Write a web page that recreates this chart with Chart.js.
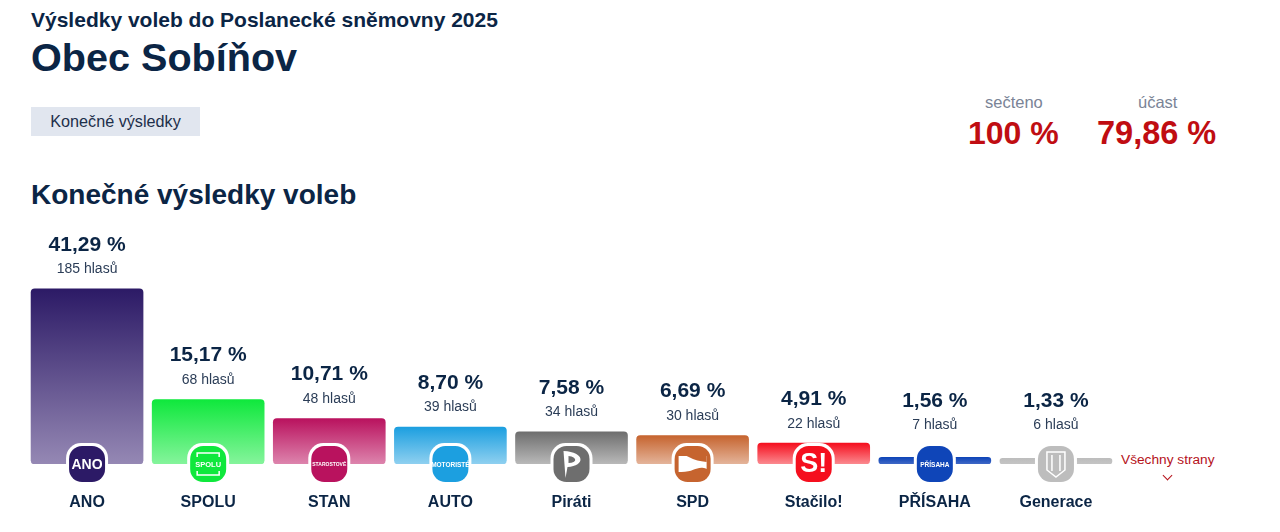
<!DOCTYPE html>
<html lang="cs">
<head>
<meta charset="utf-8">
<title>Obec Sobíňov</title>
<script src="https://cdn.jsdelivr.net/npm/chart.js@4"></script>
<style>
  html, body { margin: 0; padding: 0; background: #fff; overflow: hidden; }
  body { width: 1280px; height: 532px; position: relative; font-family: "Liberation Sans", Arial, sans-serif; color: #0b2545; }
  canvas { position: absolute; left: 0; top: 0; }
  .t { position: absolute; white-space: nowrap; line-height: 1; }
  .sup { left: 31px; top: 9px; font-size: 21px; font-weight: bold; }
  .obec { left: 31px; top: 38px; font-size: 39.6px; font-weight: bold; }
  .badge { position: absolute; left: 31px; top: 107px; width: 169px; height: 29px; background: #e1e6ef; font-size: 16.2px; line-height: 29px; text-align: center; color: #1d2f4a; }
  .head { left: 31px; top: 181px; font-size: 28px; font-weight: bold; }
  .lbl { font-size: 16.5px; color: #7a8496; text-align: center; top: 94px; }
  .big { font-size: 32.5px; font-weight: bold; color: #c00d12; text-align: center; top: 117px; }
  .all { left: 1121px; top: 453px; font-size: 13.7px; color: #b5121b; }
  .chev { position: absolute; left: 1164px; top: 472px; width: 6px; height: 6px; border-right: 1.5px solid #b5121b; border-bottom: 1.5px solid #b5121b; transform: rotate(45deg); }
</style>
</head>
<body>
<div class="t sup">Výsledky voleb do Poslanecké sněmovny 2025</div>
<div class="t obec">Obec Sobíňov</div>
<div class="badge">Konečné výsledky</div>
<div class="t lbl" style="left:985px">sečteno</div>
<div class="t big" style="left:968px;font-size:32px">100 %</div>
<div class="t lbl" style="left:1138px">účast</div>
<div class="t big" style="left:1097px">79,86 %</div>
<div class="t head">Konečné výsledky voleb</div>
<div class="t all">Všechny strany</div>
<div class="chev"></div>
<canvas id="chartVolby" width="1280" height="532"></canvas>
<script>
const parties = ['ANO', 'SPOLU', 'STAN', 'AUTO', 'Piráti', 'SPD', 'Stačilo!', 'PŘÍSAHA', 'Generace'];
const percents = [41.29, 15.17, 10.71, 8.70, 7.58, 6.69, 4.91, 1.56, 1.33];
const votes = [185, 68, 48, 39, 34, 30, 22, 7, 6];
const colorsTop = ['#2c1a66', '#0fe83c', '#b9125e', '#1c9fe0', '#6e6e6e', '#c6642f', '#f50f1e', '#0f45b8', '#bdbdbd'];
const colorsBottom = ['#9588b4', '#85f49c', '#dd84ad', '#8fd0f0', '#b9b9b9', '#e4b49a', '#fb8a90', '#3f68c6', '#c4c4c4'];
const logoText = ['ANO', 'SPOLU', 'STAROSTOVÉ', 'MOTORISTÉ', '', '', 'S!', 'PŘÍSAHA', ''];
const logoFont = [14, 7.5, 5, 6.5, 0, 0, 27, 6.5, 0];

const navy = '#0b2545';

function fmt(v) {
  return v.toFixed(2).replace('.', ',') + ' %';
}

function glyph(ctx, i, x, y) {
  ctx.fillStyle = '#fff';
  if (parties[i] === 'Piráti') {
    ctx.beginPath();
    ctx.moveTo(x - 8, y - 13);
    ctx.lineTo(x - 6, y + 14);
    ctx.lineTo(x - 4, y + 3);
    ctx.bezierCurveTo(x + 14, y + 2, x + 14, y - 12, x - 8, y - 13);
    ctx.closePath();
    ctx.moveTo(x - 3, y - 8);
    ctx.bezierCurveTo(x + 6, y - 7, x + 6, y - 1, x - 3, y - 1);
    ctx.closePath();
    ctx.fill('evenodd');
  } else if (parties[i] === 'SPD') {
    ctx.beginPath();
    ctx.moveTo(x - 14, y - 8);
    ctx.lineTo(x + 14, y - 8);
    ctx.lineTo(x + 14, y + 5);
    ctx.bezierCurveTo(x + 4, y + 1, x + 2, y + 9, x - 14, y + 8);
    ctx.closePath();
    ctx.fill();
    ctx.fillStyle = colorsTop[i];
    ctx.beginPath();
    ctx.moveTo(x - 6, y - 8);
    ctx.bezierCurveTo(x, y - 5, x + 4, y - 3, x + 14, y - 2);
    ctx.lineTo(x + 14, y - 8);
    ctx.closePath();
    ctx.fill();
  } else if (parties[i] === 'Generace') {
    ctx.strokeStyle = '#fff';
    ctx.lineWidth = 1.5;
    ctx.beginPath();
    ctx.moveTo(x - 9, y - 12);
    ctx.lineTo(x + 9, y - 12);
    ctx.lineTo(x + 9, y + 6);
    ctx.lineTo(x, y + 13);
    ctx.lineTo(x - 9, y + 6);
    ctx.closePath();
    ctx.moveTo(x - 4, y - 9);
    ctx.lineTo(x - 4, y + 7);
    ctx.moveTo(x + 4, y - 9);
    ctx.lineTo(x + 4, y + 7);
    ctx.stroke();
  } else {
    ctx.font = 'bold ' + logoFont[i] + 'px "Liberation Sans", Arial, sans-serif';
    ctx.textAlign = 'center';
    ctx.textBaseline = 'middle';
    ctx.fillText(logoText[i], x, y + 1);
    if (parties[i] === 'SPOLU') {
      // ramecek kolem napisu
      ctx.strokeStyle = '#fff';
      ctx.lineWidth = 1.5;
      ctx.beginPath();
      ctx.moveTo(x - 11, y - 7);
      ctx.lineTo(x - 11, y - 11);
      ctx.lineTo(x + 11, y - 11);
      ctx.lineTo(x + 11, y - 7);
      ctx.moveTo(x - 11, y + 7);
      ctx.lineTo(x - 11, y + 11);
      ctx.lineTo(x + 11, y + 11);
      ctx.lineTo(x + 11, y + 7);
      ctx.stroke();
    }
  }
}

// popisky nad sloupci a loga strany na spodni hrane
const barExtras = {
  id: 'barExtras',
  afterDatasetsDraw(chart) {
    const ctx = chart.ctx;
    const meta = chart.getDatasetMeta(0);
    const base = chart.scales.y.getPixelForValue(0);
    ctx.save();
    meta.data.forEach((bar, i) => {
      const anchor = Math.min(bar.y, 445);
      ctx.textAlign = 'center';
      ctx.textBaseline = 'middle';
      ctx.fillStyle = navy;
      ctx.font = 'bold 21px "Liberation Sans", Arial, sans-serif';
      ctx.fillText(fmt(percents[i]), bar.x, anchor - 44);
      ctx.fillStyle = '#2b3d57';
      ctx.font = '14px "Liberation Sans", Arial, sans-serif';
      ctx.fillText(votes[i] + ' hlasů', bar.x, anchor - 19.5);

      ctx.beginPath();
      ctx.roundRect(bar.x - 21, base - 21, 42, 42, 15);
      ctx.fillStyle = '#fff';
      ctx.fill();
      ctx.beginPath();
      ctx.roundRect(bar.x - 18, base - 18, 36, 36, 13);
      ctx.fillStyle = colorsTop[i];
      ctx.fill();
      glyph(ctx, i, bar.x, base);
    });
    ctx.restore();
  }
};

window.onload = function () {
  const chartVolby = document.getElementById('chartVolby');
  const ctx = chartVolby.getContext('2d');
  new Chart(ctx, {
    type: 'bar',
    plugins: [barExtras],
    data: {
      labels: parties,
      datasets: [{
        data: percents,
        barThickness: 112,
        borderRadius: 4,
        borderSkipped: false,
        backgroundColor(c) {
          const y = c.chart.scales.y;
          if (!y) return colorsTop[c.dataIndex];
          const y0 = y.getPixelForValue(percents[c.dataIndex]);
          const y1 = y.getPixelForValue(0);
          if (!isFinite(y0) || !isFinite(y1)) return colorsTop[c.dataIndex];
          const g = c.chart.ctx.createLinearGradient(0, y0, 0, y1);
          g.addColorStop(0, colorsTop[c.dataIndex]);
          g.addColorStop(1, colorsBottom[c.dataIndex]);
          return g;
        }
      }]
    },
    options: {
      responsive: false,
      animation: false,
      devicePixelRatio: 1,
      layout: {
        padding: { left: 26.5, right: 163.5, top: 252, bottom: 0 }
      },
      plugins: {
        legend: { display: false },
        tooltip: { enabled: false }
      },
      scales: {
        x: {
          border: { display: false },
          grid: { display: false, drawTicks: false },
          afterFit(scale) { scale.height = 68; },
          ticks: {
            padding: 29,
            color: navy,
            maxRotation: 0,
            autoSkip: false,
            font: { family: '"Liberation Sans", Arial, sans-serif', size: 16, weight: 'bold' }
          }
        },
        y: {
          display: false,
          min: 0,
          max: 50
        }
      }
    }
  });
};
</script>
</body>
</html>
